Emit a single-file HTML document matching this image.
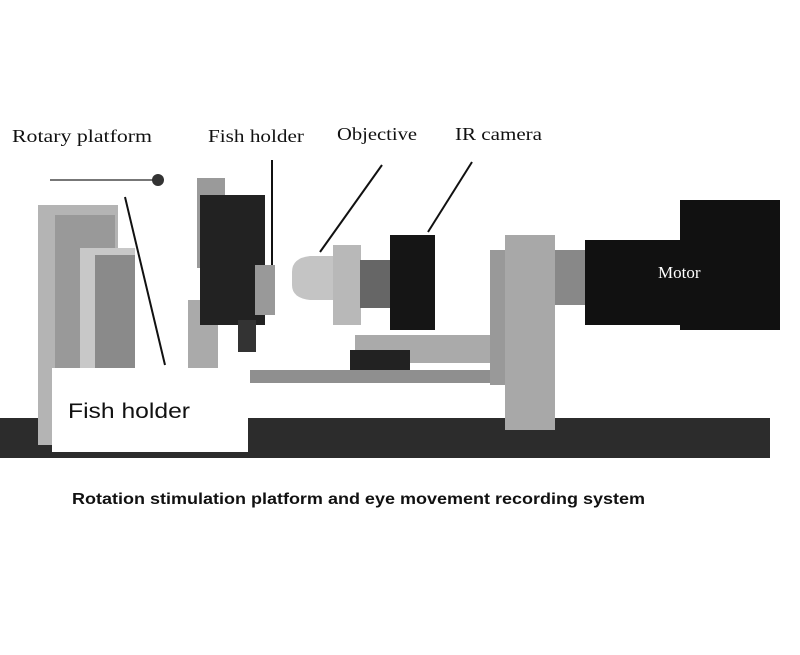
<!DOCTYPE html><html><head><style>body{margin:0;background:#fff}</style></head><body>
<svg width="800" height="650" xmlns="http://www.w3.org/2000/svg">
<rect width="800" height="650" fill="#fff"/>
<rect x="0" y="418" width="770" height="40" fill="#2c2c2c"/>
<rect x="38" y="205" width="80" height="240" fill="#b4b4b4"/>
<rect x="55" y="215" width="60" height="225" fill="#999"/>
<rect x="80" y="248" width="55" height="125" fill="#c8c8c8"/>
<rect x="95" y="255" width="40" height="118" fill="#8a8a8a"/>
<rect x="188" y="300" width="30" height="70" fill="#aaa"/>
<rect x="197" y="178" width="28" height="90" fill="#9a9a9a"/>
<rect x="200" y="195" width="65" height="130" fill="#222"/>
<rect x="255" y="265" width="20" height="50" fill="#999"/>
<rect x="238" y="320" width="18" height="32" fill="#333"/>
<path d="M292 272 Q292 258 310 256 L335 256 L335 300 L310 300 Q292 298 292 285Z" fill="#c4c4c4"/>
<rect x="333" y="245" width="28" height="80" fill="#b8b8b8"/>
<rect x="360" y="260" width="30" height="48" fill="#666"/>
<rect x="390" y="235" width="45" height="95" fill="#151515"/>
<rect x="355" y="335" width="135" height="28" fill="#aaa"/>
<rect x="350" y="350" width="60" height="22" fill="#222"/>
<rect x="250" y="370" width="275" height="13" fill="#8f8f8f"/>
<rect x="490" y="250" width="30" height="135" fill="#999"/>
<rect x="505" y="235" width="50" height="195" fill="#a8a8a8"/>
<rect x="555" y="250" width="30" height="55" fill="#888"/>
<rect x="585" y="240" width="100" height="85" fill="#111"/>
<rect x="680" y="200" width="100" height="130" fill="#111"/>
<rect x="52" y="368" width="196" height="84" fill="#fff"/>
<text x="68" y="418" font-family="Liberation Sans, sans-serif" font-size="21" fill="#111" textLength="122" lengthAdjust="spacingAndGlyphs">Fish holder</text>
<text x="658" y="278" font-family="Liberation Serif, serif" font-size="17" fill="#fff">Motor</text>
<line x1="50" y1="180" x2="160" y2="180" stroke="#777" stroke-width="2"/>
<circle cx="158" cy="180" r="6" fill="#333"/>
<g stroke="#111" stroke-width="2">
<line x1="125" y1="197" x2="165" y2="365"/>
<line x1="272" y1="160" x2="272" y2="265"/>
<line x1="382" y1="165" x2="320" y2="252"/>
<line x1="472" y1="162" x2="428" y2="232"/>
</g>
<g font-family="Liberation Serif, serif" font-size="18" fill="#111">
<text x="12" y="142" textLength="140" lengthAdjust="spacingAndGlyphs">Rotary platform</text>
<text x="208" y="142" textLength="96" lengthAdjust="spacingAndGlyphs">Fish holder</text>
<text x="337" y="140" textLength="80" lengthAdjust="spacingAndGlyphs">Objective</text>
<text x="455" y="140" textLength="87" lengthAdjust="spacingAndGlyphs">IR camera</text>
</g>
<text x="72" y="504" font-family="Liberation Sans, sans-serif" font-size="16" font-weight="bold" fill="#111" textLength="573" lengthAdjust="spacingAndGlyphs">Rotation stimulation platform and eye movement recording system</text>
</svg></body></html>
